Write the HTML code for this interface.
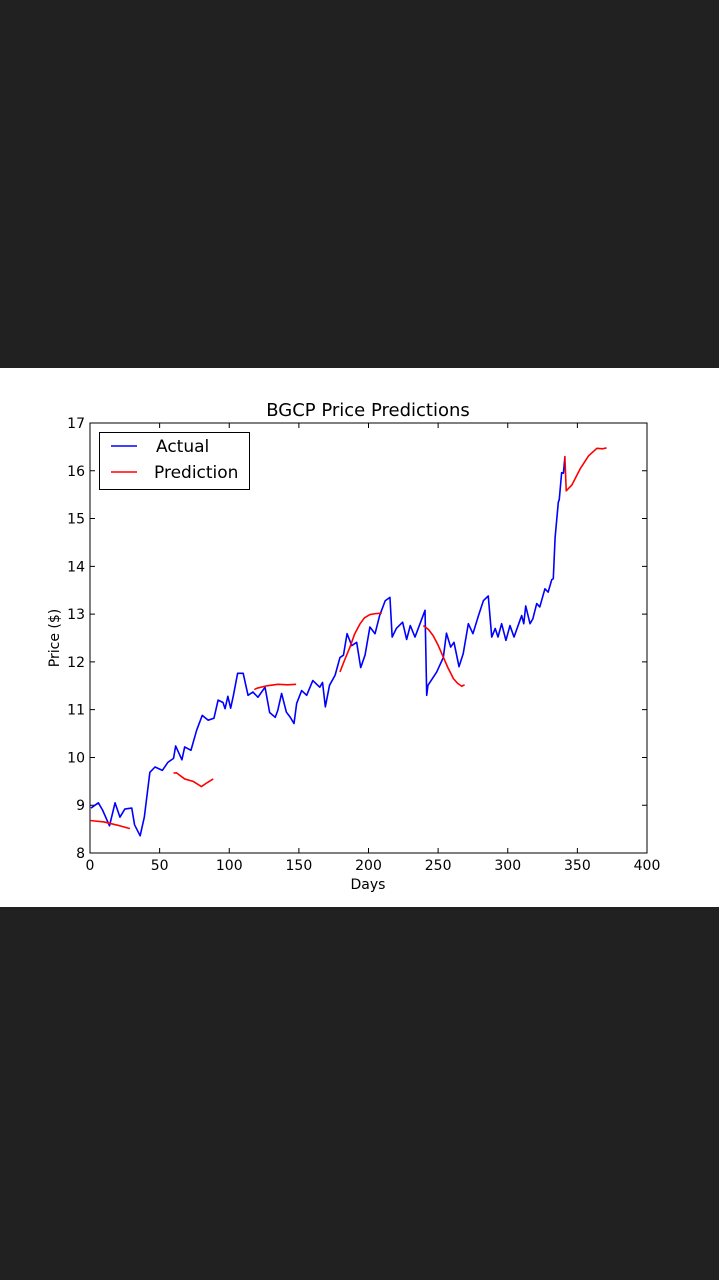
<!DOCTYPE html>
<html><head><meta charset="utf-8"><style>
html,body{margin:0;padding:0;background:#212121;width:719px;height:1280px;overflow:hidden}
#band{position:absolute;left:0;top:368px;width:719px;height:539px;background:#fff}
svg{position:absolute;left:0;top:0}
text{font-family:"DejaVu Sans","Liberation Sans",sans-serif;fill:#000}
</style></head><body>
<div id="band"></div>
<svg id="chart" width="719" height="1280"></svg>
<script>
const actualDays=[0.7,6,9,14,18,21.5,25,30,32,36,39,43,46.7,52,56,60,61.5,66,68,72.5,76.6,80.6,84.8,89,92,95.5,97,99,101,103,106,110,113.5,117,120.6,125.7,129,133,134.8,137.6,141,143.6,146.5,148.4,152,155.6,160,165,167,169,172,176,179.5,182,184.6,188,191.5,194.4,197.5,201,204.7,208,212,215.4,217,220,224.5,227.4,230,233.4,237,240.6,241.8,242.7,249,253.7,256,259,261.4,265,268,271.7,275,279,282.5,286,288.5,291,293,295.6,298.7,301.6,304.5,310,311.5,312.9,316,318,320.8,323,326.7,329,331.6,332.7,334,336.3,337,338.7,340,341];
const actualPrices=[8.94,9.05,8.9,8.57,9.05,8.75,8.92,8.94,8.59,8.36,8.75,9.69,9.8,9.73,9.9,9.98,10.24,9.95,10.22,10.15,10.57,10.88,10.78,10.82,11.2,11.15,11.02,11.28,11.03,11.3,11.76,11.76,11.3,11.37,11.26,11.47,10.94,10.84,10.98,11.34,10.95,10.85,10.71,11.13,11.4,11.3,11.61,11.47,11.57,11.06,11.51,11.72,12.09,12.14,12.59,12.34,12.41,11.88,12.14,12.73,12.59,12.97,13.28,13.35,12.52,12.7,12.83,12.47,12.76,12.52,12.8,13.08,11.3,11.51,11.79,12.09,12.6,12.31,12.41,11.9,12.17,12.8,12.59,12.97,13.28,13.38,12.52,12.7,12.52,12.8,12.45,12.76,12.52,12.97,12.8,13.17,12.8,12.9,13.22,13.15,13.53,13.46,13.72,13.74,14.6,15.34,15.4,15.96,15.95,16.28];
const predDays=[[0,10,20,28.7],[60,62,68,74,80,84,88.5],[118,120,127,135,142,148],[179.5,183,186.7,190,194,197,201,205,209.5],[239.4,243,246.4,250,253.7,257,261,264,267,269],[341,342,346,352,358,364,368,371]];
const predPrices=[[8.68,8.65,8.58,8.51],[9.67,9.68,9.55,9.5,9.39,9.47,9.55],[11.42,11.45,11.5,11.53,11.52,11.53],[11.79,12.05,12.31,12.58,12.8,12.92,12.99,13.01,13.02],[12.76,12.68,12.55,12.35,12.1,11.88,11.65,11.55,11.49,11.52],[16.31,15.58,15.7,16.04,16.31,16.47,16.46,16.48]];
const xTicks=[0,50,100,150,200,250,300,350,400];
const yTicks=[8,9,10,11,12,13,14,15,16,17];
const L=90,R=647,T=423,B=853;
const sx=d=>L+(d-0)/400*(R-L);
const sy=p=>B-(p-8)/9*(B-T);
const svg=document.getElementById('chart');
const NS='http://www.w3.org/2000/svg';
function mk(tag,attrs,parent){const e=document.createElementNS(NS,tag);for(const k in attrs)e.setAttribute(k,attrs[k]);(parent||svg).appendChild(e);return e;}
const frame=mk('rect',{x:L,y:T,width:R-L,height:B-T,fill:'none',stroke:'#000','stroke-width':1});


xTicks.forEach(v=>{
  const x=sx(v);
  const t=mk('path',{d:`M${x},${B}v-5M${x},${T}v5`,stroke:'#000','stroke-width':1});
  
  
  const lb=mk('text',{x:x,y:B+17,'text-anchor':'middle','font-size':14});
  lb.textContent=v;
  
  
});
yTicks.forEach(v=>{
  const y=sy(v);
  const t=mk('path',{d:`M${L},${y}h5M${R},${y}h-5`,stroke:'#000','stroke-width':1});
  
  
  const lb=mk('text',{x:L-5,y:y+5,'text-anchor':'end','font-size':14});
  lb.textContent=v;
  
  
});
const act=mk('polyline',{points:actualDays.map((d,i)=>sx(d)+','+sy(actualPrices[i])).join(' '),fill:'none',stroke:'#0000ff','stroke-width':1.6,'stroke-linejoin':'round'});


predDays.forEach((ds,k)=>{
  const p=mk('polyline',{points:ds.map((d,i)=>sx(d)+','+sy(predPrices[k][i])).join(' '),fill:'none',stroke:'#ff0000','stroke-width':1.6,'stroke-linejoin':'round'});
  
  
});
</script>
<svg width="719" height="1280" style="pointer-events:none">
<text x="368" y="416" text-anchor="middle" font-size="18">BGCP Price Predictions</text>
<text x="368" y="889" text-anchor="middle" font-size="14">Days</text>
<text x="59" y="638" text-anchor="middle" font-size="14" transform="rotate(-90 59 638)">Price ($)</text>
<g>
<rect x="99.5" y="432.5" width="150" height="57" fill="#fff" stroke="#000" stroke-width="1"/>
<line x1="111" y1="446" x2="137" y2="446" stroke="#0000ff" stroke-width="1.5"/>
<text x="156" y="452" font-size="17">Actual</text>
<line x1="111" y1="472" x2="137" y2="472" stroke="#ff0000" stroke-width="1.5"/>
<text x="154" y="478" font-size="17">Prediction</text>
</g>
</svg>
</body></html>
